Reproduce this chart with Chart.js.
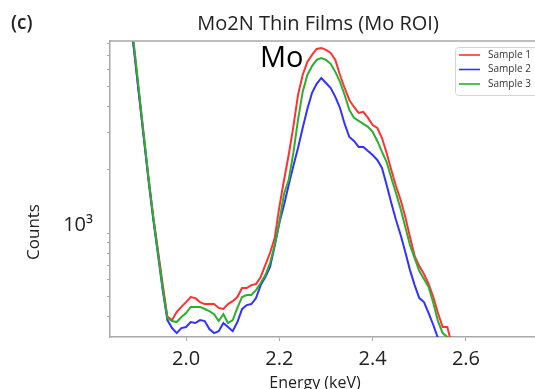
<!DOCTYPE html>
<html>
<head>
<meta charset="utf-8">
<script src="https://cdn.jsdelivr.net/npm/chart.js@4.4.1/dist/chart.umd.min.js"></script>
<style>
    body { margin: 0; background: #fff; }
    #wrap { width: 535px; height: 389px; }
</style>
</head>
<body>
<div id="wrap"><canvas id="myChart" width="535" height="389"></canvas></div>
<script>
// energy axis (keV), 10 eV steps
var energy = [1.88, 1.89, 1.90, 1.91, 1.92, 1.93, 1.94, 1.95, 1.96, 1.97,
              1.98, 1.99, 2.00, 2.01, 2.02, 2.03, 2.04, 2.05, 2.06, 2.07,
              2.08, 2.09, 2.10, 2.11, 2.12, 2.13, 2.14, 2.15, 2.16, 2.17,
              2.18, 2.19, 2.20, 2.21, 2.22, 2.23, 2.24, 2.25, 2.26, 2.27,
              2.28, 2.29, 2.30, 2.31, 2.32, 2.33, 2.34, 2.35, 2.36, 2.37,
              2.38, 2.39, 2.40, 2.41, 2.42, 2.43, 2.44, 2.45, 2.46, 2.47,
              2.48, 2.49, 2.50, 2.51, 2.52, 2.53, 2.54, 2.55, 2.56, 2.57];

var sample1 = [11000, 6970, 4400, 2800, 1780, 1180, 820, 570, 400, 385,
               421, 445, 469, 496, 490, 469, 459, 459, 459, 440,
               435, 459, 474, 496, 547, 547, 565, 572, 617, 705,
               803, 946, 1330, 1787, 2350, 3199, 4539, 5650, 6520, 7047,
               7516, 7600, 7435, 7195, 6668, 5650, 4900, 4297, 3981, 3727,
               3771, 3533, 3267, 3162, 2832, 2404, 1995, 1674, 1436, 1191,
               957, 777, 696, 638, 572, 496, 416, 357, 357, 293];

var sample2 = [11000, 6970, 4390, 2770, 1750, 1150, 785, 535, 385, 353,
               334, 353, 357, 377, 373, 385, 381, 349, 334, 341,
               373, 357, 341, 377, 434, 454, 459, 490, 565, 617,
               689, 867, 1116, 1359, 1693, 2085, 2541, 3162, 3894, 4645,
               5125, 5470, 5176, 4900, 4446, 3936, 3304, 2865, 2742, 2570,
               2570, 2457, 2350, 2227, 2041, 1693, 1390, 1153, 978, 812,
               666, 565, 490, 469, 416, 365, 316, 280, 260, 240];

var sample3 = [11500, 7300, 4550, 2850, 1800, 1180, 800, 545, 394, 381,
               377, 398, 416, 445, 445, 445, 435, 425, 411, 381,
               411, 373, 385, 440, 496, 507, 507, 535, 578, 631,
               720, 877, 1128, 1534, 1787, 2404, 3452, 4693, 5650, 6233,
               6668, 6808, 6668, 6383, 5848, 5236, 4539, 3853, 3533, 3415,
               3304, 3199, 3027, 2742, 2432, 2178, 1828, 1550, 1300, 1068,
               877, 760, 659, 604, 553, 464, 381, 334, 320, 290];

var seriesNames = ['Sample 1', 'Sample 2', 'Sample 3'];
var xTicks = [2.0, 2.2, 2.4, 2.6];
var yTicks = [400, 500, 600, 700, 800, 900, 1000, 2000, 3000, 4000, 5000, 6000, 7000, 8000];

var lineColors = ['#ff3232', '#3232ff', '#2eae2e'];
var spineColor = '#a8a8a8';
var fontName = '"Open Sans", "Noto Sans", sans-serif';

function toPoints(values) {
    return energy.map(function (e, i) {
        return { x: e, y: values[i] };
    });
}

// texts, top spine and the framed legend
var figureExtras = {
    id: 'figureExtras',
    afterDraw: function (chart) {
        var ctx = chart.ctx;
        var area = chart.chartArea;
        ctx.save();

        ctx.strokeStyle = spineColor;
        ctx.lineWidth = 1.5;
        ctx.beginPath();
        ctx.moveTo(area.left, area.top);
        ctx.lineTo(area.right, area.top);
        ctx.stroke();

        ctx.fillStyle = '#222';
        ctx.textBaseline = 'middle';
        ctx.textAlign = 'left';
        ctx.font = '600 19px ' + fontName;
        ctx.fillText('(c)', 11, 24);

        ctx.textAlign = 'center';
        ctx.font = '20px ' + fontName;
        ctx.fillText('Mo2N Thin Films (Mo ROI)', 318, 24);

        ctx.font = '16px ' + fontName;
        ctx.fillText('Energy (keV)', 315, 383);

        ctx.save();
        ctx.translate(34, 232);
        ctx.rotate(-Math.PI / 2);
        ctx.font = '17px ' + fontName;
        ctx.fillText('Counts', 0, 0);
        ctx.restore();

        ctx.fillStyle = '#000';
        ctx.textAlign = 'left';
        ctx.textBaseline = 'alphabetic';
        ctx.font = '29px ' + fontName;
        ctx.fillText('Mo', 260, 67);

        // legend box
        ctx.fillStyle = 'rgba(255,255,255,0.85)';
        ctx.strokeStyle = '#d4d4d4';
        ctx.lineWidth = 1;
        ctx.beginPath();
        ctx.roundRect(455.5, 47.5, 100, 48, 3);
        ctx.fill();
        ctx.stroke();

        ctx.font = '10px ' + fontName;
        ctx.textBaseline = 'middle';
        chart.data.datasets.forEach(function (ds, i) {
            var y = 55 + i * 14.5;
            ctx.strokeStyle = ds.borderColor;
            ctx.lineWidth = 1.6;
            ctx.beginPath();
            ctx.moveTo(459, y);
            ctx.lineTo(480, y);
            ctx.stroke();
            ctx.fillStyle = '#333';
            ctx.fillText(ds.label, 488, y);
        });

        ctx.restore();
    }
};

var ctx = document.getElementById('myChart').getContext('2d');
var myChart = new Chart(ctx, {
    type: 'line',
    data: {
        datasets: [
            { label: seriesNames[0], data: toPoints(sample1), borderColor: lineColors[0], order: 3 },
            { label: seriesNames[1], data: toPoints(sample2), borderColor: lineColors[1], order: 2 },
            { label: seriesNames[2], data: toPoints(sample3), borderColor: lineColors[2], order: 1 }
        ]
    },
    options: {
        responsive: false,
        animation: false,
        devicePixelRatio: 1,
        layout: { padding: { top: 41, left: 0, right: 0, bottom: 0 } },
        elements: {
            point: { radius: 0 },
            line: { borderWidth: 2, tension: 0, fill: false }
        },
        plugins: {
            legend: { display: false },
            title: { display: false },
            tooltip: { enabled: false }
        },
        scales: {
            x: {
                type: 'linear',
                min: 1.837,
                max: 2.748,
                afterFit: function (scale) { scale.height = 52; },
                afterBuildTicks: function (scale) {
                    scale.ticks = xTicks.map(function (v) { return { value: v }; });
                },
                grid: { drawOnChartArea: false, drawTicks: true, tickLength: 4, color: spineColor },
                border: { display: true, color: spineColor, width: 1.5 },
                ticks: {
                    autoSkip: false,
                    maxRotation: 0,
                    padding: 6,
                    color: '#222',
                    font: { family: fontName, size: 20 },
                    callback: function (value) { return value.toFixed(1); }
                }
            },
            y: {
                type: 'logarithmic',
                min: 320,
                max: 8200,
                bounds: 'data',
                afterFit: function (scale) { scale.width = 110; },
                afterBuildTicks: function (scale) {
                    scale.ticks = yTicks.map(function (v) { return { value: v, major: v === 1000 }; });
                },
                grid: { drawOnChartArea: false, drawTicks: true, tickLength: 3, color: spineColor },
                border: { display: true, color: spineColor, width: 1.5 },
                ticks: {
                    autoSkip: false,
                    padding: 14,
                    labelOffset: -8,
                    color: '#222',
                    font: { family: fontName, size: 20 },
                    callback: function (value) { return value === 1000 ? '10³' : ''; }
                }
            }
        }
    },
    plugins: [figureExtras]
});
</script>
</body>
</html>
